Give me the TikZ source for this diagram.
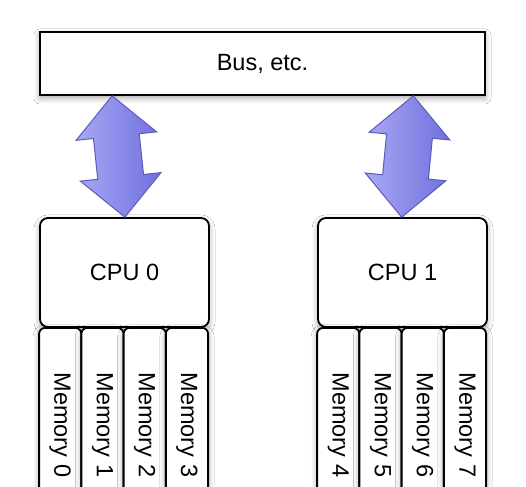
\documentclass[tikz,border=0pt]{standalone}
\usepackage{fontspec}
\setmainfont{Liberation Sans}
\usetikzlibrary{shapes.arrows,shadows.blur,calc}
\definecolor{arrowlight}{HTML}{A8A8F4}
\definecolor{arrowdark}{HTML}{7070DE}
\definecolor{arrowedge}{HTML}{5C5CB8}

\begin{document}
\begin{tikzpicture}[
    x=1pt, y=1pt,
    every node/.style={font=\fontsize{23.5}{28}\selectfont},
    box/.style={rectangle, draw=black, line width=1.8pt, fill=white,
        blur shadow={shadow xshift=0pt, shadow yshift=-3pt,
            shadow blur steps=8, shadow blur radius=6pt, shadow opacity=35}},
    busbox/.style={box, minimum width=445pt, minimum height=63pt},
    cpubox/.style={box, rounded corners=8pt, minimum width=169pt, minimum height=109pt},
    membox/.style={box, rounded corners=6pt, rotate=-90, inner sep=0pt,
        minimum width=194pt, minimum height=42.25pt},
    dblarrow/.style={double arrow, draw=arrowedge, line width=1pt,
        left color=arrowlight, right color=arrowdark, inner xsep=0pt, inner ysep=22.5pt,
        minimum height=122pt, minimum width=80pt, double arrow head extend=17.5pt},
]

% Page frame
\useasboundingbox (0,0) rectangle (526,486);
\clip (0,0) rectangle (526,486);
\fill[white] (0,0) rectangle (526,486);

% Bus and processors
\node[busbox] (bus) at (262.5, 422.5) {Bus, etc.};
\node[cpubox] (cpu0) at (124.5, 213.5) {CPU 0};
\node[cpubox] (cpu1) at (402.5, 213.5) {CPU 1};

% Memory banks under each CPU
\foreach \i in {0,...,3} {
    \pgfmathtruncatemacro{\m}{\i+4}
    \node[membox] (mem\i) at ($(cpu0.south west)+({42.25*(\i+0.5)},-97)$) {Memory \i};
    \node[membox] (mem\m) at ($(cpu1.south west)+({42.25*(\i+0.5)},-97)$) {Memory \m};
}

% Links between bus and CPUs
\node[dblarrow, rotate=96] (link0) at ($(cpu0.north |- bus.south)!.5!(cpu0.north)+(-6,0)$) {};
\node[dblarrow, rotate=84.5] (link1) at ($(cpu1.north |- bus.south)!.5!(cpu1.north)+(5,0)$) {};

\end{tikzpicture}
\end{document}
